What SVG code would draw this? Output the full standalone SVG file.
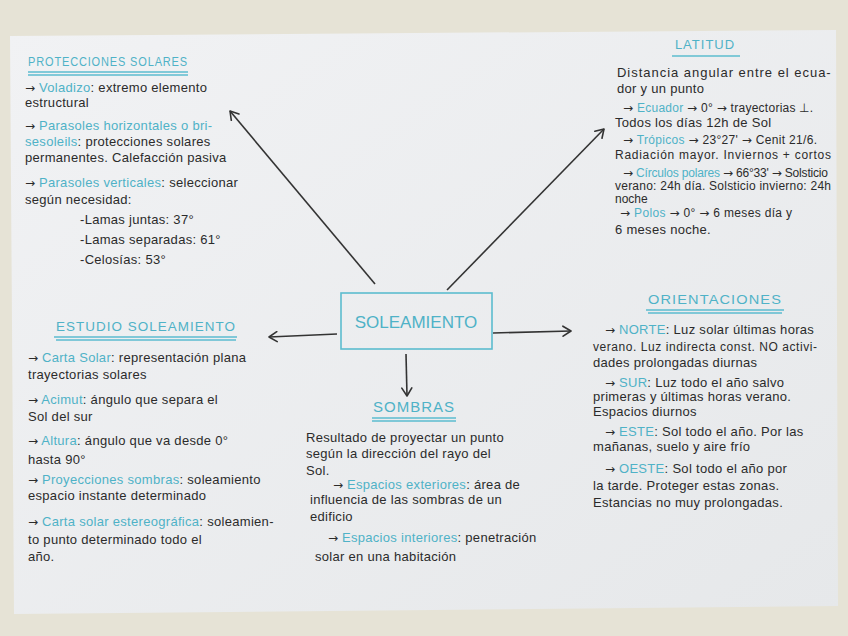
<svg xmlns="http://www.w3.org/2000/svg" width="848" height="636" viewBox="0 0 848 636">
<defs>
<linearGradient id="paper" x1="0" y1="0" x2="1" y2="1">
<stop offset="0" stop-color="#f1f2f4"/>
<stop offset="1" stop-color="#e6e8ea"/>
</linearGradient>
<marker id="ah" markerWidth="12" markerHeight="12" refX="9" refY="6" orient="auto" markerUnits="userSpaceOnUse">
<path d="M1,1 L9,6 L1,11" fill="none" stroke="#333" stroke-width="1.6" stroke-linecap="round" stroke-linejoin="round"/>
</marker>
<style>
.t{font-family:"Liberation Sans",Arial,sans-serif;font-size:13px;letter-spacing:0.3px;fill:#2b2b2b}
.s{font-size:12px;letter-spacing:0}
.c{fill:#4fb2c7}
.a{font-family:"DejaVu Sans",sans-serif;font-size:12px;letter-spacing:0}
.h{font-family:"Liberation Sans",Arial,sans-serif;font-size:13px;fill:#4fb2c7;letter-spacing:1px}
.u{stroke:#5cbccf;stroke-width:1.6;fill:none}
.con{stroke:#333;stroke-width:1.6;fill:none;marker-end:url(#ah)}
</style>
</defs>
<rect width="848" height="636" fill="#e6e3d6"/>
<polygon points="10,36 836,30 838,606 14,614" fill="url(#paper)"/>

<g id="connectors">
<path class="con" d="M375,284 L230,111"/>
<path class="con" d="M447,290 L604,129"/>
<path class="con" d="M337,334 L269,337"/>
<path class="con" d="M493,333 L571,331"/>
<path class="con" d="M406,354 L407,396"/>
</g>

<g id="soleamiento">
<rect x="341" y="293" width="151" height="56" fill="none" stroke="#5cbccf" stroke-width="1.6"/>
<text x="416" y="328" text-anchor="middle" style="font-family:'Liberation Sans',Arial,sans-serif;font-size:17px;fill:#4fb2c7">SOLEAMIENTO</text>
</g>

<g id="protecciones">
<text class="h" x="28" y="66" textLength="160" lengthAdjust="spacingAndGlyphs">PROTECCIONES SOLARES</text>
<path class="u" d="M28,72 L188,72 M28,75 L188,75"/>
<text class="t" x="25" y="92"><tspan class="a">→</tspan> <tspan class="c">Voladizo</tspan>: extremo elemento</text>
<text class="t" x="25" y="107">estructural</text>
<text class="t" x="25" y="130"><tspan class="a">→</tspan> <tspan class="c">Parasoles horizontales o bri-</tspan></text>
<text class="t" x="25" y="146"><tspan class="c">sesoleils</tspan>: protecciones solares</text>
<text class="t" x="25" y="162">permanentes. Calefacción pasiva</text>
<text class="t" x="25" y="187"><tspan class="a">→</tspan> <tspan class="c">Parasoles verticales</tspan>: seleccionar</text>
<text class="t" x="25" y="204">según necesidad:</text>
<text class="t" x="80" y="224">-Lamas juntas: 37°</text>
<text class="t" x="80" y="244">-Lamas separadas: 61°</text>
<text class="t" x="80" y="264">-Celosías: 53°</text>
</g>

<g id="latitud">
<text class="h" x="705" y="49" text-anchor="middle">LATITUD</text>
<path class="u" d="M672,56 L740,56"/>
<text class="t" x="617" y="77" textLength="214" lengthAdjust="spacing">Distancia angular entre el ecua-</text>
<text class="t" x="617" y="93">dor y un punto</text>
<text class="t s" x="623" y="112" textLength="190" lengthAdjust="spacing"><tspan class="a">→</tspan> <tspan class="c">Ecuador</tspan> <tspan class="a">→</tspan> 0° <tspan class="a">→</tspan> trayectorias ⊥.</text>
<text class="t" x="615" y="127">Todos los días 12h de Sol</text>
<text class="t s" x="623" y="144" textLength="194" lengthAdjust="spacing"><tspan class="a">→</tspan> <tspan class="c">Trópicos</tspan> <tspan class="a">→</tspan> 23°27' <tspan class="a">→</tspan> Cenit 21/6.</text>
<text class="t s" x="615" y="159" textLength="216" lengthAdjust="spacing">Radiación mayor. Inviernos + cortos</text>
<text class="t s" x="623" y="177" textLength="205" lengthAdjust="spacing"><tspan class="a">→</tspan> <tspan class="c">Círculos polares</tspan> <tspan class="a">→</tspan> 66°33' <tspan class="a">→</tspan> Solsticio</text>
<text class="t s" x="615" y="190" textLength="216" lengthAdjust="spacing">verano: 24h día. Solsticio invierno: 24h</text>
<text class="t s" x="615" y="203">noche</text>
<text class="t s" x="620" y="217" textLength="172" lengthAdjust="spacing"><tspan class="a">→</tspan> <tspan class="c">Polos</tspan> <tspan class="a">→</tspan> 0° <tspan class="a">→</tspan> 6 meses día y</text>
<text class="t" x="615" y="234">6 meses noche.</text>
</g>

<g id="estudio">
<text class="h" x="56" y="331" textLength="180" lengthAdjust="spacingAndGlyphs">ESTUDIO SOLEAMIENTO</text>
<path class="u" d="M54,337 L237,337 M56,340 L236,340"/>
<text class="t" x="28" y="362"><tspan class="a">→</tspan> <tspan class="c">Carta Solar</tspan>: representación plana</text>
<text class="t" x="28" y="379">trayectorias solares</text>
<text class="t" x="28" y="404"><tspan class="a">→</tspan> <tspan class="c">Acimut</tspan>: ángulo que separa el</text>
<text class="t" x="28" y="421">Sol del sur</text>
<text class="t" x="28" y="445"><tspan class="a">→</tspan> <tspan class="c">Altura</tspan>: ángulo que va desde 0°</text>
<text class="t" x="28" y="464">hasta 90°</text>
<text class="t" x="28" y="484"><tspan class="a">→</tspan> <tspan class="c">Proyecciones sombras</tspan>: soleamiento</text>
<text class="t" x="28" y="500">espacio instante determinado</text>
<text class="t" x="28" y="526"><tspan class="a">→</tspan> <tspan class="c">Carta solar estereográfica</tspan>: soleamien-</text>
<text class="t" x="28" y="544">to punto determinado todo el</text>
<text class="t" x="28" y="561">año.</text>
</g>

<g id="orientaciones">
<text class="h" x="648" y="304" textLength="134" lengthAdjust="spacingAndGlyphs">ORIENTACIONES</text>
<path class="u" d="M646,310 L784,310 M648,313 L782,313"/>
<text class="t" x="605" y="334"><tspan class="a">→</tspan> <tspan class="c">NORTE</tspan>: Luz solar últimas horas</text>
<text class="t s" x="593" y="351" textLength="224" lengthAdjust="spacing">verano. Luz indirecta const. NO activi-</text>
<text class="t" x="593" y="367">dades prolongadas diurnas</text>
<text class="t" x="605" y="387"><tspan class="a">→</tspan> <tspan class="c">SUR</tspan>: Luz todo el año salvo</text>
<text class="t" x="593" y="401">primeras y últimas horas verano.</text>
<text class="t" x="593" y="416">Espacios diurnos</text>
<text class="t" x="605" y="436"><tspan class="a">→</tspan> <tspan class="c">ESTE</tspan>: Sol todo el año. Por las</text>
<text class="t" x="593" y="451">mañanas, suelo y aire frío</text>
<text class="t" x="605" y="473"><tspan class="a">→</tspan> <tspan class="c">OESTE</tspan>: Sol todo el año por</text>
<text class="t" x="593" y="490">la tarde. Proteger estas zonas.</text>
<text class="t" x="593" y="507">Estancias no muy prolongadas.</text>
</g>

<g id="sombras">
<text class="h" x="414" y="412" text-anchor="middle" style="font-size:15px">SOMBRAS</text>
<path class="u" d="M372,418 L456,418 M372,421 L456,421"/>
<text class="t" x="306" y="442">Resultado de proyectar un punto</text>
<text class="t" x="306" y="458">según la dirección del rayo del</text>
<text class="t" x="306" y="475">Sol.</text>
<text class="t" x="333" y="489"><tspan class="a">→</tspan> <tspan class="c">Espacios exteriores</tspan>: área de</text>
<text class="t" x="310" y="504">influencia de las sombras de un</text>
<text class="t" x="310" y="521">edificio</text>
<text class="t" x="328" y="542"><tspan class="a">→</tspan> <tspan class="c">Espacios interiores</tspan>: penetración</text>
<text class="t" x="315" y="561">solar en una habitación</text>
</g>
</svg>
